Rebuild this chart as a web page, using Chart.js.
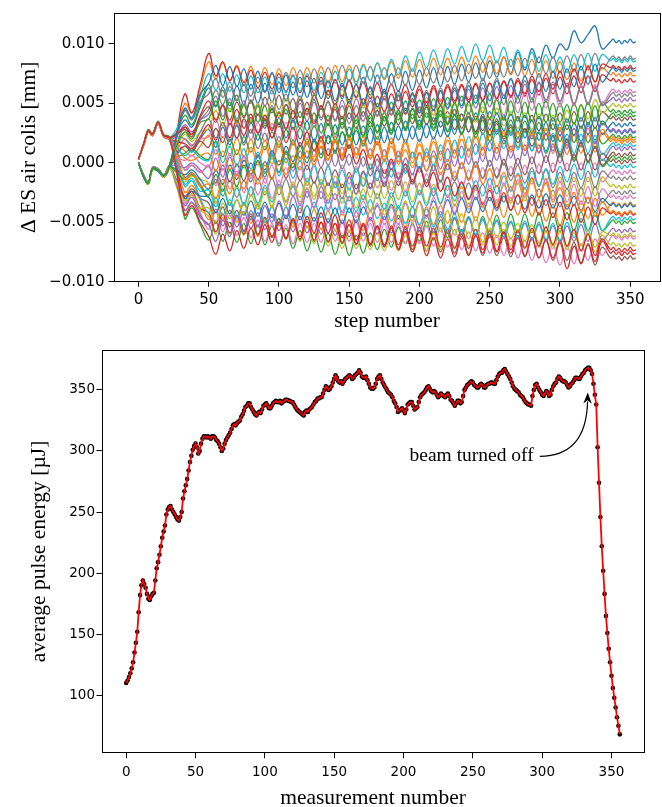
<!DOCTYPE html>
<html><head><meta charset="utf-8">
<script src="https://cdn.jsdelivr.net/npm/chart.js@4.4.1/dist/chart.umd.min.js"></script>
<style>
html,body{margin:0;padding:0;background:#fff;overflow:hidden;}
#wrap{position:relative;width:662px;height:807px;background:#fff;}
canvas{position:absolute;left:0;}
#c1{top:0;}
#c2{top:340px;}
</style></head><body>
<div id="wrap"><canvas id="c1" width="662" height="340"></canvas><canvas id="c2" width="662" height="467"></canvas></div>
<script>
// ---------- top panel: step numbers and coil offsets (values in units of 1e-4 mm) ----------
const steps = [0,4,7,10,14,18,22,27,33,38,44,
50,55,60,65,70,75,80,85,90,95,100,105,110,115,120,125,130,135,140,145,150,155,160,165,170,175,180,185,190,195,
200,205,210,215,220,225,230,235,240,245,250,255,260,265,270,275,280,285,290,295,300,305,310,315,320,325,330,
336,338,340,342,344,346,348,350,352,354];

const coil00 = [3,17,27,24,34,23,21,25,36,30,47, 63,47,64,48,65,49,66,50,67,51,68,52,68,53,69,53,69,54,70,54,70,55,72,57,74,58,75,60,77,61,78,63,80,64,81,66,83,68,84,69,86,72,89,75,93,78,96,84,99,88,100,95,111,101,108,115,96, 102,104,101,103,100,103,101,104,101,102];
const coil01 = [0,-12,-16,-4,-5,-10,-2,22,50,42,62, 85,70,84,69,82,68,81,67,80,66,79,65,80,66,80,67,81,67,82,68,82,68,83,69,84,70,85,71,86,72,87,73,88,74,88,75,89,75,90,76,90,75,89,74,88,73,87,72,86,71,85,70,84,69,82,68,80, 74,76,73,75,72,75,73,76,73,74];
const coil02 = [3,18,28,25,35,24,22,-2,-47,-38,-52, -65,-49,-66,-50,-67,-51,-68,-52,-69,-53,-70,-55,-72,-57,-74,-59,-75,-59,-77,-61,-78,-61,-76,-59,-73,-56,-71,-54,-68,-51,-66,-49,-65,-48,-63,-47,-62,-46,-61,-45,-60,-44,-60,-43,-59,-43,-59,-42,-58,-42,-58,-42,-57,-41,-57,-41,-57, -50,-48,-51,-49,-52,-49,-51,-48,-51,-50];
const coil03 = [0,-13,-18,-6,-7,-12,-4,24,58,42,66, 92,73,85,69,81,65,78,63,76,62,75,60,74,59,73,58,72,57,70,56,69,55,68,54,67,53,66,52,66,51,65,51,65,52,66,52,66,53,67,53,67,54,68,55,69,56,70,57,71,58,72,58,73,59,73,60,74, 69,71,68,70,67,70,68,71,68,69];
const coil04 = [3,17,26,23,33,22,20,22,32,26,36, 41,56,39,54,37,52,35,50,33,48,32,49,34,50,35,51,36,52,36,53,37,54,39,55,40,56,41,57,41,58,42,59,44,60,45,61,46,62,46,63,47,64,49,65,50,66,51,67,51,68,51,67,49,65,49,64,49, 53,55,52,54,51,54,52,55,52,53];
const coil05 = [0,-12,-17,-5,-6,-11,-3,-14,-28,-22,-30, -34,-51,-37,-54,-40,-57,-43,-60,-46,-63,-47,-64,-48,-65,-49,-66,-50,-67,-51,-68,-52,-69,-53,-70,-54,-71,-55,-72,-56,-73,-57,-74,-58,-75,-59,-76,-60,-77,-61,-78,-62,-78,-63,-79,-63,-79,-64,-80,-64,-80,-65,-82,-67,-84,-69,-86,-71, -80,-78,-81,-79,-82,-79,-81,-78,-81,-80];
const coil06 = [3,16,26,23,33,22,20,-4,-34,-27,-42, -56,-41,-58,-44,-61,-46,-63,-48,-66,-51,-68,-52,-68,-51,-67,-51,-67,-50,-66,-50,-66,-50,-66,-51,-67,-51,-67,-51,-68,-52,-68,-53,-70,-55,-71,-56,-73,-58,-74,-59,-76,-61,-78,-63,-80,-65,-82,-67,-84,-69,-86,-70,-85,-68,-82,-64,-78, -63,-61,-64,-62,-65,-62,-64,-61,-64,-63];
const coil07 = [0,-11,-16,-4,-5,-10,-2,15,30,24,36, 45,61,49,64,52,68,56,72,59,75,62,76,63,78,64,79,66,80,67,82,68,82,67,81,67,80,66,80,65,79,66,80,67,81,68,82,69,83,71,85,71,86,72,87,73,88,74,89,75,89,76,90,77,91,78,92,79, 88,90,87,89,86,89,87,90,87,88];
const coil08 = [0,-12,-18,-6,-6,-12,-4,-20,-40,-34,-40, -45,-60,-46,-60,-47,-61,-47,-62,-48,-62,-49,-64,-51,-66,-53,-68,-55,-70,-57,-72,-58,-72,-59,-73,-59,-74,-60,-74,-61,-75,-60,-74,-59,-73,-58,-71,-57,-70,-56,-69,-55,-69,-56,-70,-56,-71,-57,-71,-58,-72,-58,-73,-59,-74,-60,-75,-61, -69,-67,-70,-68,-71,-68,-70,-67,-70,-69];
const coil09 = [3,17,27,24,34,23,21,28,45,37,56, 75,61,75,60,74,59,73,59,72,58,72,59,73,60,75,61,76,63,77,64,79,66,82,69,84,71,87,74,90,77,93,80,95,81,96,83,98,85,100,86,99,84,97,81,95,80,93,77,91,76,89,76,91,78,92,77,91, 86,88,85,87,84,87,85,88,85,86];
const coil10 = [0,-12,-17,-5,-6,-11,-3,6,14,9,20, 28,13,30,15,32,17,34,19,36,21,38,21,36,20,35,18,33,16,32,15,30,15,31,16,32,17,34,19,35,20,36,21,38,22,39,24,41,26,42,27,43,26,40,23,38,21,36,19,34,18,33,17,34,18,34,19,35, 26,28,25,27,24,27,25,28,25,26];
const coil11 = [3,17,27,24,34,23,21,2,-25,-19,-32, -48,-32,-49,-33,-50,-34,-51,-35,-52,-36,-53,-37,-54,-38,-55,-39,-56,-40,-57,-41,-58,-41,-57,-40,-56,-39,-55,-38,-54,-37,-53,-37,-52,-36,-51,-35,-50,-34,-49,-33,-48,-31,-46,-29,-44,-27,-45,-31,-49,-35,-53,-35,-50,-32,-47,-30,-44, -35,-33,-36,-34,-37,-34,-36,-33,-36,-35];
const coil12 = [0,-13,-17,-5,-7,-11,-3,22,40,32,50, 66,48,61,43,57,39,52,34,48,29,43,28,44,29,45,30,46,31,47,32,48,33,49,34,50,35,51,36,52,37,53,38,54,39,55,40,56,41,57,42,58,41,57,40,55,38,54,37,52,35,50,34,50,35,51,35,51, 43,45,42,44,41,44,42,45,42,43];
const coil13 = [3,16,26,23,33,22,20,-2,-30,-24,-38, -42,-58,-43,-59,-44,-60,-45,-61,-46,-62,-47,-63,-48,-64,-49,-65,-50,-66,-51,-67,-52,-68,-52,-69,-53,-69,-53,-69,-54,-70,-54,-70,-55,-71,-56,-72,-56,-72,-56,-73,-57,-74,-59,-76,-61,-78,-63,-80,-65,-82,-67,-89,-70,-85,-68,-83,-66, -76,-74,-77,-75,-78,-75,-77,-74,-77,-76];
const coil14 = [0,-12,-17,-5,-6,-11,-3,-18,-36,-29,-44, -52,-39,-53,-40,-54,-41,-55,-42,-56,-43,-57,-44,-58,-45,-59,-46,-60,-47,-61,-48,-62,-48,-61,-46,-60,-45,-59,-44,-58,-44,-57,-44,-58,-45,-59,-46,-60,-47,-61,-48,-62,-49,-63,-50,-64,-51,-65,-52,-66,-53,-67,-53,-66,-52,-66,-51,-65, -57,-55,-58,-56,-59,-56,-58,-55,-58,-57];
const coil15 = [3,17,27,24,34,23,21,24,28,22,38, 47,34,49,36,51,38,53,40,55,42,57,41,54,38,51,35,48,32,45,29,42,29,43,30,44,31,45,32,46,33,47,32,45,30,43,28,41,26,39,24,37,24,38,25,39,26,40,27,41,28,42,28,43,29,43,29,43, 37,39,36,38,35,38,36,39,36,37];
const coil16 = [0,-11,-16,-4,-5,-10,-2,10,20,15,20, 22,37,21,36,20,35,19,34,18,33,18,34,19,35,20,36,21,37,22,38,23,40,25,41,26,43,28,45,29,46,31,48,32,49,34,50,35,52,36,53,38,55,40,57,42,59,44,61,46,63,47,64,48,65,49,66,50, 60,62,59,61,58,61,59,62,59,60];
const coil17 = [3,16,26,23,33,22,20,6,-12,-8,-18, -27,-14,-28,-15,-29,-15,-28,-14,-27,-13,-27,-14,-28,-15,-29,-16,-30,-17,-31,-18,-32,-18,-31,-17,-30,-16,-29,-15,-28,-14,-27,-14,-28,-15,-29,-16,-30,-17,-31,-18,-32,-19,-33,-20,-35,-21,-36,-22,-36,-23,-37,-22,-36,-21,-34,-20,-33, -25,-23,-26,-24,-27,-24,-26,-23,-26,-25];
const coil18 = [0,-12,-17,-5,-6,-11,-3,12,24,18,26, 29,44,31,46,33,48,35,50,37,52,39,54,41,56,43,58,45,60,47,62,48,61,46,60,45,59,44,58,44,57,42,55,40,53,38,51,36,49,34,47,32,46,31,43,29,42,28,41,27,40,28,44,32,48,37,53,42, 48,50,47,49,46,49,47,50,47,48];
const coil19 = [3,17,27,24,34,23,21,4,-20,-15,-30, -42,-29,-44,-31,-46,-33,-48,-35,-50,-37,-52,-37,-50,-35,-48,-33,-46,-31,-44,-29,-42,-29,-44,-31,-47,-34,-49,-36,-51,-37,-52,-39,-54,-41,-56,-43,-58,-45,-60,-47,-62,-48,-62,-49,-63,-49,-64,-50,-64,-51,-65,-50,-63,-47,-60,-44,-57, -47,-45,-48,-46,-49,-46,-48,-45,-48,-47];
const coil20 = [0,-12,-17,-5,-6,-11,-3,-16,-30,-24,-28, -29,-42,-30,-43,-31,-44,-32,-45,-33,-46,-34,-47,-35,-48,-36,-49,-37,-50,-38,-51,-38,-50,-37,-48,-36,-48,-35,-47,-34,-46,-33,-45,-32,-44,-31,-43,-30,-42,-29,-41,-29,-40,-28,-40,-27,-39,-27,-38,-26,-38,-27,-39,-28,-40,-29,-41,-30, -36,-34,-37,-35,-38,-35,-37,-34,-37,-36];
const coil21 = [3,17,27,24,34,23,21,16,10,6,14, 23,7,22,6,21,5,20,4,19,3,18,3,19,4,20,5,21,6,22,7,23,7,22,6,22,5,21,5,20,4,20,5,22,7,23,8,25,10,26,11,28,12,27,11,26,10,25,9,24,8,23,7,24,8,24,9,25, 18,20,17,19,16,19,17,20,17,18];
const coil22 = [0,-13,-18,-6,-7,-12,-4,4,8,12,6, 3,18,5,20,7,22,9,24,11,26,13,28,15,29,16,31,18,33,19,34,21,36,22,38,25,39,25,41,27,41,28,42,27,41,26,40,25,39,24,38,23,37,22,36,21,35,20,34,19,33,18,32,17,31,17,30,16, 22,24,21,23,20,23,21,24,21,22];
const coil23 = [3,16,26,23,33,22,20,18,16,12,22, 32,19,34,21,36,23,38,25,40,27,42,29,44,31,46,33,48,35,50,37,52,39,54,41,56,43,58,45,60,47,62,48,63,49,64,50,65,51,66,52,67,54,69,56,71,58,73,60,75,62,77,64,79,66,81,68,83, 80,82,79,81,78,81,79,82,79,80];
const coil24 = [0,-12,-17,-5,-6,-11,-3,-2,-4,0,-6, -13,4,-12,5,-11,6,-10,7,-9,8,-8,9,-7,10,-6,11,-4,12,-3,13,-2,13,-3,12,-4,11,-6,10,-7,9,-8,9,-7,10,-6,11,-5,12,-4,13,-3,13,-2,14,-2,15,-1,15,0,16,0,16,1,17,1,18,2, 12,14,11,13,10,13,11,14,11,12];
const coil25 = [3,17,27,24,34,23,21,10,-6,-2,-8, -3,-17,-2,-16,-1,-15,0,-14,1,-13,2,-13,0,-15,-2,-17,-4,-19,-6,-21,-8,-22,-7,-21,-6,-20,-5,-19,-4,-18,-3,-17,-2,-16,-1,-15,0,-14,1,-13,2,-12,3,-11,4,-10,5,-9,6,-8,7,-7,7,-6,8,-6,8, 1,3,0,2,-1,2,0,3,0,1];
const coil26 = [0,-11,-16,-4,-5,-10,-2,4,2,6,0, -3,11,-6,8,-10,5,-13,1,-17,-2,-20,-4,-20,-3,-19,-3,-19,-2,-18,-2,-18,-3,-20,-5,-21,-6,-23,-8,-24,-9,-26,-9,-25,-8,-23,-7,-22,-6,-21,-4,-20,-4,-19,-3,-18,-2,-18,-1,-17,0,-16,0,-16,0,-16,0,-16, -8,-6,-9,-7,-10,-7,-9,-6,-9,-8];
const coil27 = [3,17,27,24,34,23,21,22,20,14,26, 37,21,34,18,31,15,28,12,25,9,22,7,19,4,16,1,13,-2,10,-5,7,-8,5,-11,3,-13,1,-14,-1,-16,-3,-17,-2,-16,-1,-15,0,-14,1,-13,2,-13,0,-15,-2,-17,-4,-19,-6,-21,-8,-22,-8,-21,-7,-21,-7, -13,-11,-14,-12,-15,-12,-14,-11,-14,-13];
const coil28 = [0,-12,-18,-6,-6,-12,-4,-8,-16,-11,-14, -17,-34,-18,-35,-19,-36,-20,-37,-21,-38,-21,-36,-18,-33,-16,-31,-14,-28,-11,-26,-11,-27,-12,-29,-13,-30,-15,-31,-16,-33,-17,-34,-18,-35,-19,-36,-20,-37,-21,-38,-21,-36,-19,-34,-17,-32,-15,-30,-13,-28,-12,-28,-12,-28,-12,-28,-12, -20,-18,-21,-19,-22,-19,-21,-18,-21,-20];
const coil29 = [3,16,26,23,33,22,20,0,-18,-13,-24, -23,-37,-22,-36,-21,-35,-20,-34,-19,-33,-18,-33,-20,-35,-22,-37,-24,-39,-26,-41,-28,-41,-27,-40,-26,-39,-25,-38,-24,-37,-23,-36,-21,-34,-19,-32,-17,-30,-15,-28,-13,-26,-11,-24,-9,-22,-7,-20,-5,-18,-3,-16,-1,-14,1,-12,3, -3,-1,-4,-2,-5,-2,-4,-1,-4,-3];
const coil30 = [0,-12,-17,-5,-6,-11,-3,-6,-10,-6,-14, -22,-6,-18,-2,-14,2,-10,6,-6,10,-2,14,1,17,4,20,7,23,10,26,13,27,14,29,15,30,16,31,17,31,18,33,20,35,22,37,24,39,26,41,28,42,27,41,26,40,25,39,24,38,23,37,23,38,24,38,24, 32,34,31,33,30,33,31,34,31,32];
const coil31 = [3,17,27,24,34,23,21,14,4,2,6, 8,-7,10,-6,11,-4,13,-2,14,-1,16,0,17,1,18,2,18,3,19,4,20,4,19,3,18,2,18,1,17,0,16,1,18,2,19,4,20,5,22,6,23,8,25,9,26,11,27,12,29,13,30,14,29,13,29,12,28, 20,22,19,21,18,21,19,22,19,20];
const coil32 = [0,-12,-17,-5,-6,-11,-3,-8,-14,-10,-20, -28,-10,-24,-6,-20,-2,-16,2,-12,6,-8,10,-4,14,0,18,4,22,8,26,12,30,16,34,20,38,24,42,28,46,32,47,29,44,27,41,24,38,21,36,18,33,16,30,13,28,10,25,8,22,5,20,2,17,0,14,-3, 4,6,3,5,2,5,3,6,3,4];
const coil33 = [3,17,27,24,34,23,21,24,30,24,40, 52,36,48,32,45,29,41,25,37,21,33,17,30,14,26,10,22,6,18,2,15,-1,11,-5,7,-9,3,-13,-1,-16,-4,-20,-8,-24,-12,-28,-16,-31,-19,-35,-23,-38,-25,-40,-27,-42,-29,-44,-31,-46,-33,-48,-35,-50,-37,-52,-38, -43,-41,-44,-42,-45,-42,-44,-41,-44,-43];
const coil34 = [3,16,26,23,33,22,20,-8,-40,-33,-46, -52,-66,-48,-62,-44,-58,-40,-54,-36,-50,-32,-46,-28,-42,-24,-38,-20,-34,-16,-30,-12,-26,-8,-22,-4,-18,0,-14,4,-10,8,-7,10,-5,12,-3,14,-1,16,1,18,2,19,4,21,6,23,8,25,10,27,12,29,14,31,16,33, 27,29,26,28,25,28,26,29,26,27];
const coil35 = [0,-12,-17,-5,-6,-11,-3,8,14,10,18, 13,29,17,33,21,37,25,41,29,45,33,49,37,53,41,57,45,61,49,65,53,66,50,63,47,60,44,57,41,54,38,51,35,48,32,45,29,42,26,39,23,35,20,32,17,29,14,26,10,23,7,20,4,17,1,13,-2, 7,9,6,8,5,8,6,9,6,7];
const coil36 = [3,17,27,24,34,23,21,8,-6,-2,-8, -2,-19,-5,-22,-7,-25,-10,-27,-13,-30,-15,-33,-18,-36,-21,-38,-24,-41,-26,-44,-29,-46,-32,-49,-34,-52,-37,-52,-34,-49,-32,-47,-29,-44,-27,-42,-24,-39,-22,-37,-19,-34,-17,-32,-14,-29,-12,-29,-14,-31,-16,-33,-18,-35,-20,-37,-22, -29,-27,-30,-28,-31,-28,-30,-27,-30,-29];
const coil37 = [0,-11,-16,-4,-5,-10,-2,20,44,36,52, 58,71,55,68,53,66,50,63,48,61,45,58,43,56,40,53,38,51,35,48,33,48,35,52,39,54,40,56,42,58,44,61,47,63,49,66,52,68,54,71,58,71,57,70,55,69,54,68,53,66,52,65,50,64,49,63,48, 57,59,56,58,55,58,56,59,56,57];
const coil38 = [0,-12,-18,-6,-6,-12,-4,-16,-32,-26,-38, -38,-50,-34,-47,-31,-43,-27,-39,-24,-36,-20,-32,-16,-29,-13,-28,-16,-31,-18,-34,-21,-38,-22,-41,-26,-44,-29,-48,-32,-51,-33,-54,-37,-58,-40,-61,-43,-64,-45,-67,-48,-63,-50,-64,-51,-66,-52,-67,-54,-68,-55,-70,-56,-70,-57,-71,-58, -61,-59,-62,-60,-63,-60,-62,-59,-62,-61];
const coil39 = [3,17,27,24,34,23,21,14,6,10,4, 2,17,0,14,-3,12,-5,9,-8,7,-11,4,-13,2,-16,-1,-18,-3,-21,-6,-23,-5,-20,-1,-15,3,-12,6,-9,9,-5,12,-2,15,1,19,4,22,7,25,10,28,12,27,11,26,10,26,9,25,9,24,8,24,8,23,7, 15,17,14,16,13,16,14,17,14,15];
const coil40 = [0,-13,-17,-5,-7,-11,-3,22,46,38,58, 67,82,65,81,64,79,62,77,60,76,59,74,57,72,55,71,54,69,52,67,50,66,49,64,47,62,45,61,44,59,42,59,44,61,46,63,48,65,50,67,52,69,54,71,56,73,58,75,60,77,62,79,64,81,66,83,68, 78,80,77,79,76,79,77,80,77,78];
const coil41 = [3,16,26,23,33,22,20,6,-14,-9,-20, -18,-30,-14,-26,-10,-22,-6,-18,-2,-14,2,-10,6,-6,10,-2,14,2,18,6,22,7,19,4,17,1,14,-1,11,-4,9,-7,6,-10,3,-12,0,-15,-2,-18,-5,-20,-8,-23,-10,-26,-13,-29,-17,-33,-21,-37,-25,-41,-29,-45,-33, -42,-40,-43,-41,-44,-41,-43,-40,-43,-42];
const coil42 = [0,-12,-17,-5,-6,-11,-3,14,26,20,34, 37,52,36,51,34,49,33,48,31,46,30,45,28,43,27,42,25,40,24,39,22,39,23,41,26,42,27,44,29,45,30,47,32,48,33,50,35,51,36,52,37,53,36,52,35,51,35,50,34,50,34,49,33,49,32,48,32, 40,42,39,41,38,41,39,42,39,40];
const coil43 = [3,17,27,24,34,23,21,-6,-44,-36,-50, -62,-77,-60,-74,-57,-72,-55,-69,-52,-67,-50,-64,-47,-62,-45,-59,-42,-59,-44,-63,-48,-65,-51,-68,-53,-70,-55,-73,-58,-75,-60,-78,-63,-80,-64,-79,-63,-78,-61,-76,-60,-75,-58,-73,-57,-72,-55,-70,-54,-69,-52,-70,-56,-74,-60,-78,-64, -73,-71,-74,-72,-75,-72,-74,-71,-74,-73];

const coilSeries = [coil00,coil01,coil02,coil03,coil04,coil05,coil06,coil07,coil08,coil09,coil10,coil11,coil12,coil13,coil14,coil15,
                    coil16,coil17,coil18,coil19,coil20,coil21,coil22,coil23,coil24,coil25,coil26,coil27,coil28,coil29,coil30,coil31,
                    coil32,coil33,coil34,coil35,coil36,coil37,coil38,coil39,coil40,coil41,coil42,coil43];
const topXTicks = [0,50,100,150,200,250,300,350];
const topYTicks = [-0.010,-0.005,0.000,0.005,0.010];

// ---------- bottom panel: average pulse energy [µJ] per measurement ----------
const pulseEnergy = [
110,112,115,118,122,127,135,143,152,168,
182,190,194,191,188,183,179,178,181,183,
184,194,204,209,215,222,229,234,239,248,
252,254,255,252,250,248,246,244,243,246,
250,261,267,272,277,284,291,296,301,304,
306,303,298,300,306,310,312,312,311,312,
311,310,312,312,311,309,308,306,303,300,
302,306,309,311,313,315,318,321,322,321,
323,324,325,328,330,333,336,337,339,339,
336,334,332,330,329,331,332,331,334,337,
338,339,337,335,335,337,339,340,341,340,
340,341,339,340,341,342,342,341,341,340,
340,338,336,334,333,332,331,330,329,332,
333,332,334,335,336,338,340,341,343,343,
344,344,347,350,353,352,350,351,353,356,
359,362,360,357,356,357,355,357,359,360,
361,362,361,359,360,362,363,364,366,364,
361,360,360,361,358,355,352,351,351,352,
355,359,361,362,359,356,354,352,350,348,
347,346,344,341,339,336,332,333,334,335,
333,331,334,338,339,340,340,337,334,335,
336,340,344,346,347,348,350,352,353,351,
349,348,349,348,346,344,345,347,346,345,
344,346,347,345,342,341,339,337,339,341,
341,339,340,345,350,352,354,355,356,357,
356,354,353,352,352,354,355,354,352,352,
354,355,355,356,356,355,355,358,361,363,
364,364,366,367,365,363,361,359,356,353,
351,350,349,348,346,345,344,342,340,339,
338,338,337,345,350,354,355,352,350,348,
346,345,347,349,348,345,346,350,353,355,
356,359,361,360,358,357,357,356,354,352,
353,355,356,358,360,360,359,359,361,363,
364,366,367,368,368,366,363,355,346,338,
303,274,246,222,202,183,165,151,138,127,
116,106,98,90,82,75,68];
const measurementNumber = pulseEnergy.map((_, i) => i);
const bottomXTicks = [0,50,100,150,200,250,300,350];
const bottomYTicks = [100,150,200,250,300,350];

// annotation anchor points (data coordinates)
const annotText = 'beam turned off';
const annotTextAt = [293.9, 295.6];
const annotTail = [298.3, 295.6];
const annotCtrl = [331.8, 295.6];
const annotTip = [332.9, 347.8];

const tab10 = ['#1f77b4','#ff7f0e','#2ca02c','#d62728','#9467bd','#8c564b','#e377c2','#7f7f7f','#bcbd22','#17becf'];

// ---------- helpers ----------
const framePlugin = {
  id: 'frame',
  afterDatasetsDraw(chart) {
    const {ctx, chartArea: a} = chart;
    ctx.save();
    ctx.strokeStyle = '#000';
    ctx.lineWidth = 1;
    const l = Math.round(a.left) + 0.5, t = Math.round(a.top) + 0.5;
    const r = Math.round(a.right) - 0.5, b = Math.round(a.bottom) - 0.5;
    ctx.strokeRect(l, t, r - l, b - t);
    ctx.restore();
  }
};
const minusFmt = v => (v < 0 ? '\u2212' : '') + Math.abs(v).toFixed(3);

function axis(opts) {
  return {
    type: 'linear', min: opts.min, max: opts.max,
    afterBuildTicks: s => { s.ticks = opts.ticks.map(v => ({value: v})); },
    afterFit: opts.fit,
    grid: {drawOnChartArea: false, drawTicks: true, tickLength: 5, color: '#000', lineWidth: 1},
    border: {display: false},
    ticks: {font: {family: 'DejaVu Sans', size: opts.tickSize}, color: '#000', padding: opts.tickPad,
            maxRotation: 0, autoSkip: false, callback: opts.fmt || (v => String(v))},
    title: {display: true, text: opts.title, color: '#000',
            font: {family: 'Liberation Serif', size: 21.5, lineHeight: 1}, padding: opts.titlePad}
  };
}

// ---------- top chart ----------
new Chart(document.getElementById('c1'), {
  type: 'line',
  data: {
    datasets: coilSeries.map((s, i) => ({
      data: s.map((v, j) => ({x: steps[j], y: v * 1e-4})),
      borderColor: tab10[i % 10], borderWidth: 1.3, pointRadius: 0, tension: 0.4, fill: false,
      order: coilSeries.length - i
    }))
  },
  options: {
    responsive: false, animation: false, devicePixelRatio: 1,
    layout: {padding: {left: 0, right: 1.3, top: 10, bottom: 0}},
    plugins: {legend: {display: false}, tooltip: {enabled: false}},
    scales: {
      x: axis({min: -17.7, max: 371.7, ticks: topXTicks, fit: s => { s.height = 58.3; },
               tickSize: 15, tickPad: 4, title: 'step number', titlePad: {top: 0, bottom: 8}}),
      y: axis({min: -0.0100, max: 0.0126, ticks: topYTicks, fit: s => { s.width = 113.6; },
               tickSize: 15, tickPad: 4, fmt: minusFmt, title: '\u0394 ES air colis [mm]', titlePad: {top: 19, bottom: 0}})
    }
  },
  plugins: [framePlugin]
});

// ---------- bottom chart ----------
const annotPlugin = {
  id: 'annot',
  afterDatasetsDraw(chart) {
    const {ctx} = chart;
    const xs = chart.scales.x, ys = chart.scales.y;
    const P = p => [xs.getPixelForValue(p[0]), ys.getPixelForValue(p[1])];
    const [tx, ty] = P(annotTextAt);
    const [x0, y0] = P(annotTail), [cx, cy] = P(annotCtrl), [x1, y1] = P(annotTip);
    ctx.save();
    ctx.fillStyle = '#000';
    ctx.font = '19.5px "Liberation Serif"';
    ctx.textAlign = 'right';
    ctx.textBaseline = 'middle';
    ctx.fillText(annotText, tx, ty);
    const dx = x1 - cx, dy = y1 - cy, len = Math.hypot(dx, dy);
    const ux = dx / len, uy = dy / len;
    const headL = 11, headW = 4.2;
    const bx = x1 - ux * headL, by = y1 - uy * headL;
    ctx.strokeStyle = '#000';
    ctx.lineWidth = 1.2;
    ctx.beginPath();
    ctx.moveTo(x0, y0);
    ctx.quadraticCurveTo(cx, cy, bx + ux * 2, by + uy * 2);
    ctx.stroke();
    ctx.beginPath();
    ctx.moveTo(x1, y1);
    ctx.lineTo(bx - uy * headW, by + ux * headW);
    ctx.lineTo(x1 - ux * headL * 0.7, y1 - uy * headL * 0.7);
    ctx.lineTo(bx + uy * headW, by - ux * headW);
    ctx.closePath();
    ctx.fill();
    ctx.restore();
  }
};

const energyPoints = pulseEnergy.map((v, i) => ({x: measurementNumber[i], y: v}));
new Chart(document.getElementById('c2'), {
  type: 'line',
  data: {
    datasets: [
      {data: energyPoints, borderColor: '#ff0000', borderWidth: 1.8, pointRadius: 0, tension: 0, fill: false, order: 0},
      {data: energyPoints, showLine: false, pointRadius: 2.3, pointBackgroundColor: '#000', pointBorderWidth: 0, order: 1}
    ]
  },
  options: {
    responsive: false, animation: false, devicePixelRatio: 1,
    layout: {padding: {left: 0, right: 17.5, top: 9, bottom: 0}},
    plugins: {legend: {display: false}, tooltip: {enabled: false}},
    scales: {
      x: axis({min: -17.8, max: 373.8, ticks: bottomXTicks, fit: s => { s.height = 53.7; },
               tickSize: 13.5, tickPad: 6.5, title: 'measurement number', titlePad: {top: 0, bottom: -1.75}}),
      y: axis({min: 52.5, max: 383, ticks: bottomYTicks, fit: s => { s.width = 101.5; },
               tickSize: 13.5, tickPad: 1.5, title: 'average pulse energy [\u00b5J]', titlePad: {top: 29, bottom: 0}})
    }
  },
  plugins: [framePlugin, annotPlugin]
});
</script>
</body></html>
